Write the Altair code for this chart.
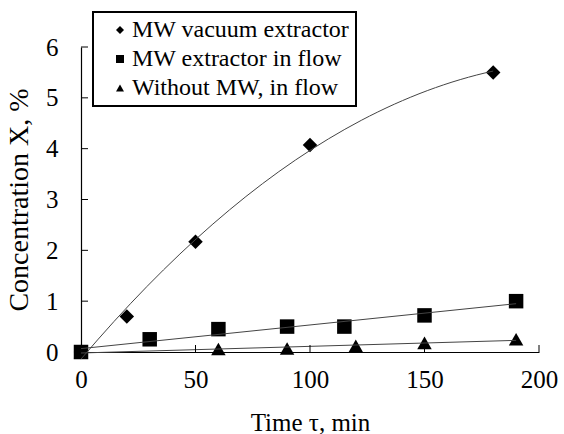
import altair as alt
import pandas as pd

# Extraction time (min) and concentration X (%) for each extraction mode
vac_t = [0, 20, 50, 100, 180]
vac_x = [0.0, 0.70, 2.17, 4.07, 5.50]

flow_t = [0, 30, 60, 90, 115, 150, 190]
flow_x = [0.0, 0.25, 0.45, 0.50, 0.50, 0.72, 1.00]

nomw_t = [0, 60, 90, 120, 150, 190]
nomw_x = [0.0, 0.06, 0.07, 0.12, 0.18, 0.25]

series_names = ["MW vacuum extractor", "MW extractor in flow", "Without MW, in flow"]
series_shapes = ["diamond", "square", "triangle-up"]

x_ticks = [0, 50, 100, 150, 200]
y_ticks = [0, 1, 2, 3, 4, 5, 6]

FONT = "Liberation Serif"
W, H = 458, 305

df = pd.concat([
    pd.DataFrame({"t": vac_t, "x": vac_x, "s": series_names[0]}),
    pd.DataFrame({"t": flow_t, "x": flow_x, "s": series_names[1]}),
    pd.DataFrame({"t": nomw_t, "x": nomw_x, "s": series_names[2]}),
], ignore_index=True)

xs = alt.Scale(domain=[0, 200], nice=False, zero=False)
ys = alt.Scale(domain=[0, 6], nice=False, zero=False)

axis_style = dict(
    ticks=False, grid=False, labelFlush=False,
    domainColor="black", domainWidth=1.2,
    labelFont=FONT, labelFontSize=25, labelColor="black",
    titleFont=FONT, titleColor="black", titleFontWeight="normal",
    titleBaseline="alphabetic",
)

x_enc = alt.X("t:Q", scale=xs, title="Time τ, min", axis=alt.Axis(
    values=x_ticks, labelPadding=15, titleY=78, titleFontSize=25, **axis_style))
y_enc = alt.Y("x:Q", scale=ys, title="Concentration X, %", axis=alt.Axis(
    values=y_ticks, labelPadding=23, titleX=-54, titleFontSize=28, **axis_style))

base = alt.Chart(df)

points = base.mark_point(filled=True, opacity=1, color="black", size=210).encode(
    x=x_enc, y=y_enc,
    shape=alt.Shape("s:N", sort=series_names,
                    scale=alt.Scale(domain=series_names, range=series_shapes),
                    legend=alt.Legend(
                        title=None, orient="none", legendX=12, legendY=-35,
                        labelFont=FONT, labelFontSize=24, labelColor="black", labelLimit=400,
                        symbolSize=64, symbolFillColor="black", symbolStrokeColor="black",
                        symbolOffset=9, labelOffset=0, rowPadding=5, padding=6,
                        strokeColor="black", fillColor="white")),
)

# Trend lines: quadratic for the vacuum extractor, linear for the flow modes
trend_vac = base.transform_filter(alt.datum.s == series_names[0]).transform_regression(
    "t", "x", method="poly", order=2).mark_line(color="#444444", strokeWidth=1).encode(
    x=x_enc, y=y_enc)
trend_flow = base.transform_filter(alt.datum.s != series_names[0]).transform_regression(
    "t", "x", method="linear", groupby=["s"]).mark_line(color="#444444", strokeWidth=1).encode(
    x=x_enc, y=y_enc, detail="s:N")

# Inward tick marks on both axes
xtick_df = pd.DataFrame({"t": x_ticks[1:]})
ytick_df = pd.DataFrame({"x": y_ticks[1:]})
xticks = alt.Chart(xtick_df).mark_rule(color="black", strokeWidth=1).encode(
    x=x_enc, y=alt.value(H), y2=alt.value(H - 7))
yticks = alt.Chart(ytick_df).mark_rule(color="black", strokeWidth=1).encode(
    y=y_enc, x=alt.value(0), x2=alt.value(7))

chart = alt.layer(points, trend_vac, trend_flow, xticks, yticks).properties(
    width=W, height=H,
    autosize=alt.AutoSizeParams(type="none"),
    padding={"left": 81, "top": 47, "right": 25, "bottom": 82},
).configure_view(
    stroke=None
).configure_legend(
    strokeWidth=2, cornerRadius=0,
)

chart.save("out.html", embed_options={"renderer": "svg", "actions": False})
